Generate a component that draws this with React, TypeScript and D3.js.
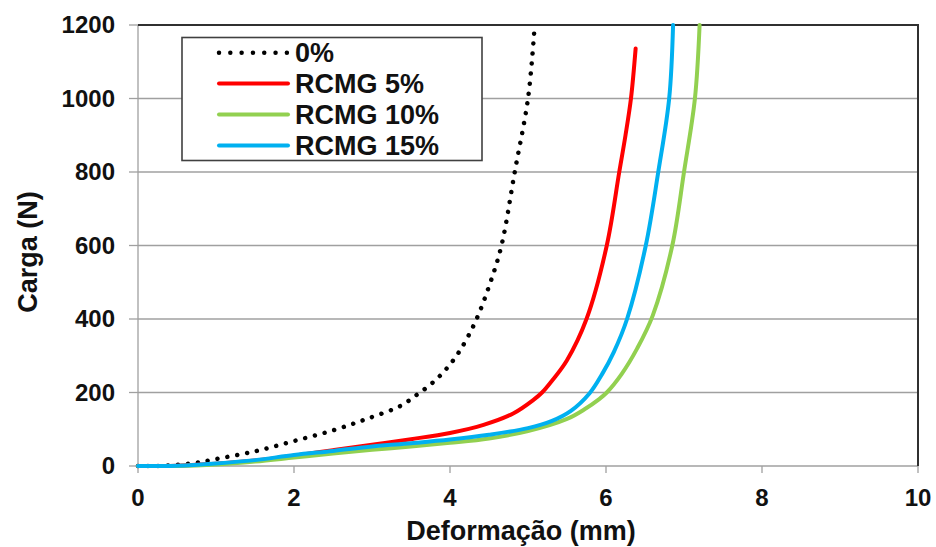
import * as d3 from "d3";

// Deformação (mm) vs Carga (N)
const s0X = [0, 0.25, 0.5, 0.75, 1.0, 1.5, 2.0, 2.5, 2.93, 3.36, 3.57, 3.79, 3.96, 4.13, 4.33, 4.51, 4.66, 4.83, 5.0, 5.08];
const s0Y = [0, 0, 3, 9, 19, 40, 68, 97, 128, 163, 193, 229, 266, 315, 395, 495, 600, 800, 1000, 1182];

const s5X = [0, 0.5, 1.0, 1.5, 2.0, 2.5, 3.0, 3.5, 4.0, 4.43, 4.81, 5.07, 5.18, 5.3, 5.5, 5.75, 6.01, 6.17, 6.25, 6.32, 6.38];
const s5Y = [0, 1, 6, 15, 28, 43, 58, 73, 90, 112, 143, 180, 200, 230, 288, 400, 600, 800, 900, 1000, 1136];

const s10X = [0, 0.5, 1.0, 1.5, 2.0, 2.5, 3.0, 3.5, 4.0, 4.5, 5.0, 5.5, 5.73, 5.9, 6.01, 6.2, 6.4, 6.6, 6.85, 7.0, 7.14, 7.2];
const s10Y = [0, 0, 4, 12, 23, 34, 44, 53, 63, 75, 95, 128, 155, 180, 200, 250, 320, 410, 600, 800, 1000, 1200];

const s15X = [0, 0.5, 1.0, 1.5, 2.0, 2.5, 3.0, 3.5, 4.0, 4.5, 5.0, 5.3, 5.55, 5.79, 5.95, 6.1, 6.27, 6.51, 6.67, 6.81, 6.86];
const s15Y = [0, 1, 7, 16, 30, 41, 53, 62, 72, 85, 103, 122, 150, 198, 250, 310, 400, 600, 800, 1000, 1200];

const seriesNames = ["0%", "RCMG 5%", "RCMG 10%", "RCMG 15%"];
const seriesColors = ["#000000", "#ff0000", "#92d050", "#00b0f0"];

const xTicks = [0, 2, 4, 6, 8, 10];
const yTicks = [0, 200, 400, 600, 800, 1000, 1200];

const W = 936;
const H = 547;
const FONT = "Arial, 'Liberation Sans', sans-serif";

export default function App() {
  const x = d3.scaleLinear().domain([0, 10]).range([138, 918]);
  const y = d3.scaleLinear().domain([0, 1200]).range([466, 25]);

  const series = [
    { xs: s0X, ys: s0Y },
    { xs: s5X, ys: s5Y },
    { xs: s10X, ys: s10Y },
    { xs: s15X, ys: s15Y },
  ].map((s, i) => ({
    name: seriesNames[i],
    color: seriesColors[i],
    dotted: i === 0,
    pts: s.xs.map((v, j) => [v, s.ys[j]] as [number, number]),
  }));

  const line = d3
    .line<[number, number]>()
    .x((d) => x(d[0]))
    .y((d) => y(d[1]))
    .curve(d3.curveCatmullRom.alpha(0.5));

  const [x0, x1] = x.range();
  const [y0, y1] = y.range();

  return (
    <svg
      width={W}
      height={H}
      style={{ position: "absolute", left: 0, top: 0, background: "#fff" }}
      fontFamily={FONT}
      fontWeight="bold"
    >
      {/* gridlines */}
      {yTicks.slice(1, -1).map((t) => (
        <line key={t} x1={x0} x2={x1} y1={y(t)} y2={y(t)} stroke="#a0a0a0" strokeWidth={1.3} />
      ))}

      {/* axes */}
      <line x1={x0} x2={x0} y1={y0} y2={y1} stroke="#a0a0a0" strokeWidth={1.3} />
      <line x1={x0} x2={x1} y1={y0} y2={y0} stroke="#a0a0a0" strokeWidth={1.3} />
      {yTicks.map((t) => (
        <line key={t} x1={x0 - 9} x2={x0} y1={y(t)} y2={y(t)} stroke="#a0a0a0" strokeWidth={1.3} />
      ))}
      {xTicks.map((t) => (
        <line key={t} x1={x(t)} x2={x(t)} y1={y0} y2={y0 + 7} stroke="#a0a0a0" strokeWidth={1.3} />
      ))}
      {/* top & right frame */}
      <path d={`M${x0},${y1}H${x1}V${y0}`} fill="none" stroke="#303030" strokeWidth={2} />

      {/* tick labels */}
      {yTicks.map((t) => (
        <text key={t} x={115} y={y(t)} dy="0.35em" textAnchor="end" fontSize={24} fill="#111">
          {t}
        </text>
      ))}
      {xTicks.map((t) => (
        <text key={t} x={x(t)} y={506} textAnchor="middle" fontSize={24} fill="#111">
          {t}
        </text>
      ))}

      {/* axis titles */}
      <text x={521} y={540} textAnchor="middle" fontSize={27} fill="#111">
        Deformação (mm)
      </text>
      <text
        transform={`translate(37,252) rotate(-90)`}
        textAnchor="middle"
        fontSize={27}
        fill="#111"
      >
        Carga (N)
      </text>

      {/* series */}
      {series.map((s) => (
        <path
          key={s.name}
          d={line(s.pts) ?? ""}
          fill="none"
          stroke={s.color}
          strokeWidth={s.dotted ? 4.5 : 4}
          strokeLinecap="round"
          strokeLinejoin="round"
          strokeDasharray={s.dotted ? "0.01 10" : undefined}
        />
      ))}

      {/* legend */}
      <rect x={182} y={37.5} width={300} height={123} fill="#fff" stroke="#404040" strokeWidth={1.6} />
      {series.map((s, i) => {
        const ly = 52.7 + i * 30.9;
        return (
          <g key={s.name}>
            <line
              x1={219}
              x2={288}
              y1={ly}
              y2={ly}
              stroke={s.color}
              strokeWidth={s.dotted ? 4.5 : 4}
              strokeLinecap="round"
              strokeDasharray={s.dotted ? "0.01 11.3" : undefined}
            />
            <text x={295} y={ly} dy="0.36em" fontSize={27} fill="#111">
              {s.name}
            </text>
          </g>
        );
      })}
    </svg>
  );
}
